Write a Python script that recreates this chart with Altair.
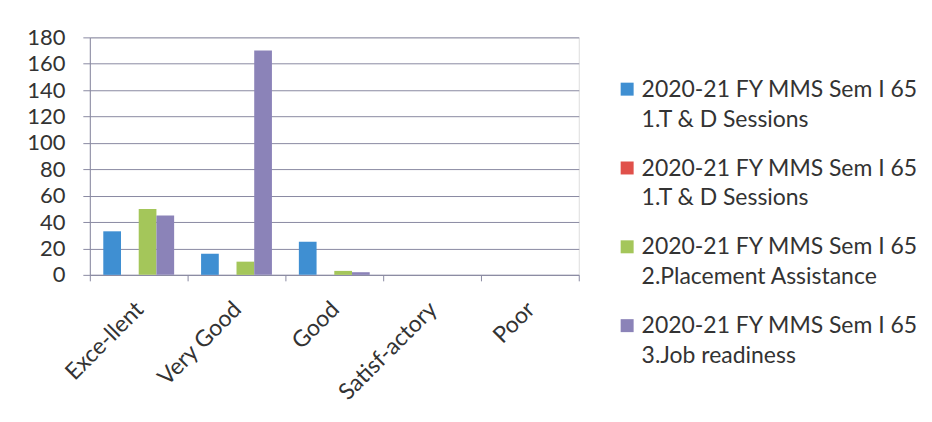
import altair as alt
import pandas as pd

categories = ["Exce-llent", "Very Good", "Good", "Satisf-actory", "Poor"]
series_keys = ["s1", "s2", "s3", "s4"]
series_labels = [
    ["2020-21 FY MMS Sem I 65", "1.T & D Sessions"],
    ["2020-21 FY MMS Sem I 65", "1.T & D Sessions"],
    ["2020-21 FY MMS Sem I 65", "2.Placement Assistance"],
    ["2020-21 FY MMS Sem I 65", "3.Job readiness"],
]
series_colors = ["#3f8fd2", "#e0504a", "#a4c65a", "#8b83b8"]
values_s1 = [33, 16, 25, 0, 0]
values_s2 = [0, 0, 0, 0, 0]
values_s3 = [50, 10, 3, 0, 0]
values_s4 = [45, 170, 2, 0, 0]
y_ticks = [0, 20, 40, 60, 80, 100, 120, 140, 160, 180]

rows = []
for key, vals in zip(series_keys, [values_s1, values_s2, values_s3, values_s4]):
    for c, v in zip(categories, vals):
        rows.append({"cat": c, "series": key, "value": v})
df = pd.DataFrame(rows)

label_map = "{" + ",".join(
    "'%s': [%s]" % (k, ",".join("'%s'" % s for s in lab))
    for k, lab in zip(series_keys, series_labels)
) + "}"

FONT = "Lato"
GRID = "#8a8aa2"
TXT = "#333333"
# square symbol drawn slightly below the entry anchor so it sits on the first label line
SYMBOL_PATH = "M-1,0.6H1V2.6H-1Z"

chart = alt.Chart(df).mark_bar().encode(
    x=alt.X("cat:N", sort=categories,
            scale=alt.Scale(paddingInner=0, paddingOuter=0),
            axis=alt.Axis(title=None, labelAngle=-45, labelFontSize=23,
                          labelFont=FONT, labelColor=TXT,
                          tickBand="extent", tickSize=6, tickColor=GRID,
                          domainColor=GRID, labelPadding=17, labelOffset=-7)),
    xOffset=alt.XOffset("series:N", sort=series_keys,
                        scale=alt.Scale(paddingOuter=0.76, paddingInner=0)),
    y=alt.Y("value:Q", scale=alt.Scale(domain=[0, 180]),
            axis=alt.Axis(title=None, values=y_ticks, labelFontSize=22,
                          labelFont=FONT, labelColor=TXT,
                          grid=True, gridColor=GRID, gridWidth=1,
                          tickSize=7, tickColor=GRID, domainColor=GRID,
                          labelPadding=18)),
    color=alt.Color("series:N", sort=series_keys,
                    scale=alt.Scale(domain=series_keys, range=series_colors),
                    legend=alt.Legend(title=None, orient="none",
                                      legendX=527, legendY=30,
                                      labelExpr=label_map + "[datum.value]",
                                      labelFontSize=23, labelFont=FONT,
                                      labelColor=TXT,
                                      labelLimit=400, labelOffset=3,
                                      symbolType=SYMBOL_PATH, symbolSize=169,
                                      symbolStrokeWidth=0,
                                      labelBaseline="top",
                                      rowPadding=14)),
).properties(
    width=490, height=238,
    autosize=alt.AutoSizeParams(type="none"),
    padding={"left": 82, "top": 29, "right": 346, "bottom": 130},
).configure_view(stroke=None).configure(
    background="white",
    style={"guide-label": {"lineHeight": 30}},
)

chart.save("out.html", embed_options={"renderer": "svg", "actions": False})
